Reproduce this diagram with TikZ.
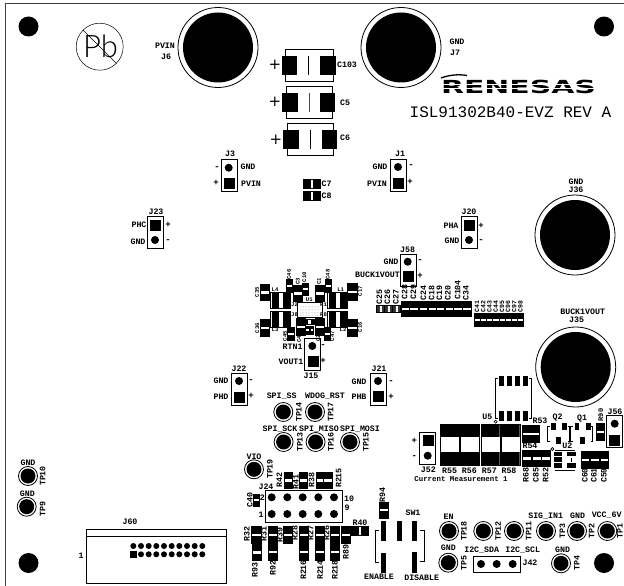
\documentclass[tikz,border=0pt]{standalone}
\usepackage{fontspec}
\newfontfamily\silkface{Liberation Mono}
\newfontfamily\logoface{DejaVu Sans}
\newfontfamily\pbface{Lato Light}
\usetikzlibrary{positioning,patterns}
\tikzset
{
    silk/.style      = {font=\silkface\bfseries\fontsize{8.3}{8.3}\selectfont, inner sep=0pt, align=center},
    silkr/.style     = {silk, rotate=90},
    tiny/.style      = {font=\silkface\bfseries\fontsize{5.6}{5.6}\selectfont, inner sep=0pt},
    tinyr/.style     = {tiny, rotate=90},
    sign/.style      = {font=\silkface\bfseries\fontsize{9}{9}\selectfont, inner sep=0pt},
    bigsign/.style   = {font=\logoface\fontsize{15}{15}\selectfont, inner sep=0pt},
    mhole/.style     = {circle, fill=black, minimum size=20, inner sep=0pt},
    bigterm/.style   = {circle, draw=black, line width=0.8, minimum size=80, inner sep=0pt, path picture={\fill[black] (path picture bounding box.center) circle (35);}},
    testpt/.style    = {circle, draw=black, line width=0.8, minimum size=19, inner sep=0pt, path picture={\fill[black] (path picture bounding box.center) circle (7.5);}},
    header/.style    = {rectangle, draw=black, line width=0.8, minimum width=16, minimum height=32, inner sep=0pt},
    pinround/.style  = {circle, fill=black, minimum size=8, inner sep=0pt},
    pinsq/.style     = {rectangle, fill=black, minimum size=11, inner sep=0pt},
    pad/.style       = {rectangle, fill=black, inner sep=0pt},
    vpart/.style     = {rectangle, draw=black, line width=0.6, fill=black, minimum width=9, minimum height=16.5, inner sep=0pt, path picture={\fill[white] ([yshift=-1.2]path picture bounding box.west) rectangle ([yshift=1.2]path picture bounding box.east);}},
    hpart/.style     = {rectangle, draw=black, line width=0.6, fill=black, minimum width=16.5, minimum height=9, inner sep=0pt, path picture={\fill[white] ([xshift=-1.2]path picture bounding box.north) rectangle ([xshift=1.2]path picture bounding box.south);}},
    inductor/.style  = {rectangle, draw=black, line width=0.8, fill=white, minimum width=20, minimum height=16.4, inner sep=0pt, path picture={\fill[black] ([xshift=1,yshift=-1]path picture bounding box.north west) rectangle ([xshift=8,yshift=1]path picture bounding box.south west); \fill[black] ([xshift=-1,yshift=-1]path picture bounding box.north east) rectangle ([xshift=-8,yshift=1]path picture bounding box.south east);}},
    shunt/.style     = {rectangle, draw=black, fill=white, minimum width=19, minimum height=41, inner sep=0pt, path picture={\fill[black] (path picture bounding box.north west) rectangle ([yshift=-13]path picture bounding box.north east); \fill[black] (path picture bounding box.south west) rectangle ([yshift=13]path picture bounding box.south east);}},
    smallring/.style = {circle, draw=black, line width=0.7, minimum size=3, inner sep=0pt}
}

\begin{document}
\begin{tikzpicture}[x=1pt, y=-1pt]
	\useasboundingbox (0,0) rectangle (624,586);
\fill[white] (0,0) rectangle (624,586);

%% board edge
\draw[line width=0.9, black!75] (5.5,586) -- (5.5,3.5) -- (624,3.5);

%% mounting holes
\node (MH1) [mhole] at (28.5,26.5) {};
\node (MH2) [mhole] at (604,26.5) {};
\node (MH3) [mhole] at (28.5,563) {};
\node (MH4) [mhole] at (604,563) {};

%% lead free mark
\node (PbMark) [circle, draw=black, line width=0.5, minimum size=47, inner sep=0pt] at (99.7,46.7) {};
\node (PbText) [font=\pbface\fontsize{31}{31}\selectfont, inner sep=0pt] at (100.5,46) {Pb};
\draw[line width=0.6] (PbMark.north west) -- (PbMark.south east);

%% power terminals
\node (J6) [bigterm] at (218,47.5) {};
\node (J7) [bigterm] at (401,47.5) {};
\node (J36) [bigterm] at (575,235) {};
\node (J35) [bigterm] at (575.7,367) {};
\node (J6a) [silk] at (165,45.5) {PVIN};
\node (J6b) [silk] at (166,56.5) {J6};
\node (J7a) [silk] at (457,41.5) {GND};
\node (J7b) [silk] at (455,52.5) {J7};
\node (J36a) [silk] at (576,181.5) {GND};
\node (J36b) [silk] at (576,189.5) {J36};
\node (J35a) [silk] at (582.7,312) {BUCK1VOUT};
\node (J35b) [silk] at (576.7,320) {J35};

%% logo and title
\node (Logo) [font=\logoface\bfseries\fontsize{18}{18}\selectfont, inner sep=0pt, xscale=1.66] at (518.5,86.5) {RENESAS};
\draw[white, line width=0.7] (440,84.5) -- (600,84.5);
\draw[white, line width=0.7] (440,88) -- (600,88);
\draw[line width=1.3] (441,78) .. controls (449,75) and (458,74) .. (467,75.5);
\node (Title) [font=\silkface\fontsize{16}{16}\selectfont, inner sep=0pt] at (510.5,112.5) {ISL91302B40-EVZ REV A};

%% bulk caps
\draw[line width=0.8] (285.7,56) -- (285.7,49) -- (333.3,49) -- (333.3,56);
\draw[line width=0.8] (285.7,75) -- (285.7,81.7) -- (333.3,81.7) -- (333.3,75);
\node (C103a) [pad, minimum width=15.6, minimum height=19] at (289.5,65.5) {};
\node (C103b) [pad, minimum width=15.6, minimum height=19] at (327.8,65.5) {};
\draw[line width=0.9] (308.7,56) -- (308.7,75);
\node (C103p) [bigsign] at (275,65) {+};
\node (C103l) [silk] at (347,64.7) {C103};
\draw[line width=0.8] (286,92.7) -- (286,86) -- (332.7,86) -- (332.7,92.7);
\draw[line width=0.8] (286,111.7) -- (286,118.7) -- (332.7,118.7) -- (332.7,111.7);
\node (C5a) [pad, minimum width=15.6, minimum height=19] at (289.9,102.2) {};
\node (C5b) [pad, minimum width=15.6, minimum height=19] at (327.5,102.2) {};
\draw[line width=0.9, black!70] (309,92.7) -- (309,111.7);
\node (C5p) [bigsign] at (275,102) {+};
\node (C5l) [silk] at (345,103) {C5};
\draw[line width=0.8] (287.3,130) -- (287.3,123.3) -- (333.7,123.3) -- (333.7,130);
\draw[line width=0.8] (287.3,149) -- (287.3,155.7) -- (333.7,155.7) -- (333.7,149);
\node (C6a) [pad, minimum width=15.6, minimum height=19] at (291,139.5) {};
\node (C6b) [pad, minimum width=15.6, minimum height=19] at (329.5,139.5) {};
\draw[line width=0.9] (310.3,130) -- (310.3,149);
\node (C6p) [bigsign] at (276,140) {+};
\node (C6l) [silk] at (345,138) {C6};
\node (C7) [hpart, minimum width=16.5, minimum height=8.5] at (311.7,184) {};
\node (C8) [hpart, minimum width=16.5, minimum height=9.5] at (311.7,195.7) {};
\node (C7l) [silk] at (326.5,184) {C7};
\node (C8l) [silk] at (326.5,196) {C8};

%% headers
\node (J3) [header] at (229.3,175.5) {};
\node (J3r) [pinround] at (228.7,167.7) {};
\node (J3s) [pinsq] at (229.5,183.5) {};
\node (J3l) [silk] at (230,154) {J3};
\node (J3g) [silk] at (248,167) {GND};
\node (J3v) [silk] at (251,184) {PVIN};
\node (J3m) [sign] at (217,168) {-};
\node (J3p) [sign] at (216,183) {+};
\node (J1) [header] at (398.3,175.5) {};
\node (J1r) [pinround] at (398,167) {};
\node (J1s) [pinsq] at (398,183) {};
\node (J1l) [silk] at (400,154) {J1};
\node (J1g) [silk] at (380,167) {GND};
\node (J1v) [silk] at (377,184) {PVIN};
\node (J1m) [sign] at (411,166) {-};
\node (J1p) [sign] at (410,182) {+};
\node (J23) [header] at (155.7,232.5) {};
\node (J23s) [pinsq] at (155.7,225) {};
\node (J23r) [pinround] at (155,240) {};
\node (J23l) [silk] at (156,212) {J23};
\node (J23a) [silk] at (139,225) {PHC};
\node (J23g) [silk] at (138,242) {GND};
\node (J23p) [sign] at (168,225) {+};
\node (J23m) [sign] at (168,241) {-};
\node (J20) [header] at (469.7,232.5) {};
\node (J20s) [pinsq] at (469,225) {};
\node (J20r) [pinround] at (469,240) {};
\node (J20l) [silk] at (469,212) {J20};
\node (J20a) [silk] at (451,226) {PHA};
\node (J20g) [silk] at (452,241) {GND};
\node (J20p) [sign] at (481,226) {+};
\node (J20m) [sign] at (481,241) {-};
\node (J58) [header] at (408,270.3) {};
\node (J58r) [pinround] at (407.7,261.7) {};
\node (J58s) [pinsq] at (408,276.5) {};
\node (J58l) [silk] at (407.7,250) {J58};
\node (J58g) [silk] at (391,262) {GND};
\node (J58v) [silk] at (377.5,274.7) {BUCK1VOUT};
\node (J58m) [sign] at (420,261) {-};
\node (J58p) [sign] at (420,276) {+};
\node (J22) [header] at (239,389) {};
\node (J22r) [pinround] at (239,381) {};
\node (J22s) [pinsq] at (239,397) {};
\node (J22l) [silk] at (239,369) {J22};
\node (J22g) [silk] at (221,381) {GND};
\node (J22a) [silk] at (221,397) {PHD};
\node (J22m) [sign] at (251,381) {-};
\node (J22p) [sign] at (251,396) {+};
\node (J21) [header] at (378.3,389) {};
\node (J21r) [pinround] at (378,381) {};
\node (J21s) [pinsq] at (378,396) {};
\node (J21l) [silk] at (379,369) {J21};
\node (J21g) [silk] at (359,382) {GND};
\node (J21a) [silk] at (359,397) {PHB};
\node (J21m) [sign] at (391,382) {-};
\node (J21p) [sign] at (391,397) {+};
\node (J15) [header] at (312.7,354.3) {};
\node (J15r) [pinround] at (312.3,346) {};
\node (J15s) [pinsq] at (313,361.5) {};
\node (J15l) [silk] at (311,376) {J15};
\node (J15a) [silk] at (292.7,347) {RTN1};
\node (J15b) [silk] at (291,361.7) {VOUT1};
\node (J15m) [sign] at (323,346) {-};
\node (J15p) [sign] at (323,361) {+};
\node (J52) [header] at (427.8,448.3) {};
\node (J52s) [pinsq] at (428,440) {};
\node (J52r) [pinround] at (427.7,455.7) {};
\node (J52l) [silk] at (428.3,469.5) {J52};
\node (J52p) [sign] at (414.3,441) {+};
\node (J52m) [sign] at (414.3,457) {-};
\node (J56) [header] at (614.3,431.8) {};
\node (J56r) [pinround] at (614.7,423.7) {};
\node (J56s) [pinsq] at (614.7,440) {};
\node (J56l) [silk] at (615,411.7) {J56};

%% buck stage
\node (U1) [rectangle, draw=black, line width=0.9, fill=white, minimum width=25, minimum height=15.5, inner sep=0pt] at (309.8,310) {};
\node (U1l) [tiny] at (309.3,299.3) {U1};
\fill[pattern=dots, pattern color=black!50] (300,305) rectangle (320,315);
\node (L4) [inductor] at (280.7,300.5) {};
\node (L1) [inductor] at (337.5,300.5) {};
\node (L3) [inductor] at (280.7,319.5) {};
\node (L2) [inductor] at (337.5,319.5) {};
\node (L4l) [tiny] at (275,289.3) {L4};
\node (L1l) [tiny] at (340.7,289.3) {L1};
\node (L3l) [tiny] at (275,330) {L3};
\node (L2l) [tiny] at (343,330) {L2};
\node (C35) [vpart, minimum width=9.5] at (265,292.5) {};
\node (C17) [vpart, minimum width=9.5] at (352.5,291.7) {};
\node (C36) [vpart, minimum width=9.5] at (265,327.7) {};
\node (C16) [vpart, minimum width=9.5] at (352.5,327.7) {};
\node (C35l) [tinyr] at (257,292) {C35};
\node (C17l) [tinyr] at (360,291) {C17};
\node (C36l) [tinyr] at (257.3,328) {C36};
\node (C16l) [tinyr] at (360,327) {C16};
\node (C46) [vpart, minimum width=6.5, minimum height=13] at (289.3,285.8) {};
\node (C3) [vpart] at (297.8,293.3) {};
\node (C10) [vpart, minimum width=6, minimum height=12] at (305.3,289.2) {};
\node (C1) [vpart] at (319.5,293.3) {};
\node (C48) [vpart, minimum width=6, minimum height=13] at (328,285.8) {};
\node (C46l) [tinyr] at (289,274.5) {C46};
\node (C3l) [tinyr] at (297.7,281) {C3};
\node (C10l) [tinyr] at (304.3,277) {C10};
\node (C1l) [tinyr] at (319,281) {C1};
\node (C48l) [tinyr] at (327.7,274.5) {C48};
\node (C4) [vpart] at (300.5,326.7) {};
\node (C2) [vpart] at (319.5,326.7) {};
\node (C45) [vpart, minimum width=6.3, minimum height=12.7] at (290.8,333.7) {};
\node (C47) [vpart, minimum width=6, minimum height=12.7] at (327,333.7) {};
\node (C4l) [tinyr] at (299,339) {C4};
\node (C2l) [tinyr] at (318.3,338) {C2};
\node (C45l) [tinyr] at (285,336) {C45};
\node (C47l) [tinyr] at (332.3,336) {C47};
\node (R11) [hpart, minimum width=9, minimum height=5.5] at (309.5,322) {};
\node (R12) [vpart, minimum width=3.5, minimum height=8] at (307.5,330) {};
\node (R13) [vpart, minimum width=3.5, minimum height=8] at (312,330) {};
\node (U1a) [tiny] at (294.5,304.5) {J2};
\node (U1b) [tiny] at (323.5,305) {R1};
\node (U1c) [tiny] at (294.5,315) {J8};
\node (U1d) [tiny] at (323.5,315) {R8};

%% spi test points
\node (TP14) [testpt] at (283.3,412) {};
\node (TP17) [testpt] at (315,412) {};
\node (TP13) [testpt] at (283.6,442) {};
\node (TP16) [testpt] at (315.6,442) {};
\node (TP15) [testpt] at (350,442) {};
\node (TP19) [testpt] at (254,469.3) {};
\node (TP14l) [silkr] at (299,412) {TP14};
\node (TP17l) [silkr] at (330.7,412) {TP17};
\node (TP13l) [silkr] at (300,442) {TP13};
\node (TP16l) [silkr] at (331,442) {TP16};
\node (TP15l) [silkr] at (366,442) {TP15};
\node (TP19l) [silkr] at (270,469) {TP19};
\node (TP14a) [silk] at (281.7,396) {SPI\_SS};
\node (TP17a) [silk] at (325,396) {WDOG\_RST};
\node (TP13a) [silk] at (280,428.7) {SPI\_SCK};
\node (TP16a) [silk] at (319,428.7) {SPI\_MISO};
\node (TP15a) [silk] at (360,428.7) {SPI\_MOSI};
\node (TP19a) [silk] at (254,457) {VIO};

%% left test points
\node (TP10) [testpt] at (28,476) {};
\node (TP9) [testpt] at (26.7,506.7) {};
\node (TP10l) [silkr] at (42.7,476) {TP10};
\node (TP9l) [silkr] at (42.7,509) {TP9};
\node (TP10a) [silk] at (28,462.3) {GND};
\node (TP9a) [silk] at (27.3,493.3) {GND};

%% J24
\node (J24) [rectangle, draw=black, line width=0.8, minimum width=77.3, minimum height=32.3, inner sep=0pt] at (303.7,506.2) {};
\node (J24a) [pinround] at (271.7,497.3) {};
\node (J24b) [pinround] at (287.3,497.3) {};
\node (J24c) [pinround] at (302.7,497.3) {};
\node (J24d) [pinround] at (318.3,497.3) {};
\node (J24e) [pinround] at (334,497.3) {};
\node (J24f) [pinround] at (271.7,514) {};
\node (J24g) [pinround] at (287.3,514) {};
\node (J24h) [pinround] at (302.7,514) {};
\node (J24i) [pinround] at (318.3,514) {};
\node (J24j) [pinround] at (334,514) {};
\node (J24l) [silk] at (266,486.7) {J24};
\node (J24n2) [silk] at (262.3,497.3) {2};
\node (J24n1) [silk] at (261,515) {1};
\node (J24n10) [silk] at (349,498.7) {10};
\node (J24n9) [silk] at (347,508) {9};

%% resistors round J24
\node (R42) [vpart, minimum width=7.5] at (288.3,480.3) {};
\node (R41) [vpart, minimum width=8] at (303.3,480.3) {};
\node (R38) [vpart, minimum width=7.5] at (319.7,480.3) {};
\node (R215) [vpart, minimum width=8.5] at (327.9,480.3) {};
\node (R42l) [silkr] at (279.3,480) {R42};
\node (R41l) [silkr] at (296,481.7) {R41};
\node (R38l) [silkr] at (311.7,480) {R38};
\node (R215l) [silkr] at (338.7,478) {R215};
\node (C40) [vpart, minimum width=6.3, minimum height=12] at (256.3,500) {};
\node (C40l) [silkr] at (250,500) {C40};
\node (R32) [vpart, minimum width=10] at (256.7,535) {};
\node (R93) [vpart] at (257,552.3) {};
\node (R31) [vpart] at (272.8,535) {};
\node (R92) [vpart] at (272.8,551.7) {};
\node (R39) [vpart, minimum width=9.4] at (288,535) {};
\node (R28) [vpart] at (303.8,535) {};
\node (R216) [vpart] at (303.8,551.7) {};
\node (R27) [vpart] at (319.5,535) {};
\node (R214) [vpart] at (319.5,551.7) {};
\node (R26) [vpart, minimum width=8.6] at (335,535) {};
\node (R218) [vpart, minimum width=8.6] at (335,551.7) {};
\node (R89) [vpart] at (346.2,535) {};
\node (R40) [hpart, minimum height=8.3] at (359.7,530.9) {};
\node (R94) [vpart, minimum width=9.3, minimum height=15.7] at (383.7,510.2) {};
\node (R32l) [silkr] at (247,534) {R32};
\node (R93l) [silkr] at (255,570) {R93};
\node (R31l) [silkr] at (264,534) {R31};
\node (R92l) [silkr] at (273,568) {R92};
\node (R39l) [silkr] at (280,535) {R39};
\node (R28l) [silkr] at (295,533) {R28};
\node (R216l) [silkr] at (303.3,570) {R216};
\node (R27l) [silkr] at (310.7,533) {R27};
\node (R214l) [silkr] at (320,570) {R214};
\node (R26l) [silkr] at (326.7,533) {R26};
\node (R218l) [silkr] at (335,570) {R218};
\node (R89l) [silkr] at (346,552) {R89};
\node (R40l) [silk] at (360,522.7) {R40};
\node (R94l) [silkr] at (382.3,495) {R94};

%% SW1
\node (SW1a) [pad, minimum width=5.3, minimum height=20.6] at (383.7,531) {};
\node (SW1b) [pad, minimum width=5.3, minimum height=20.6] at (383.7,562.8) {};
\node (SW1c) [pad, minimum width=5.6, minimum height=20.6] at (399.5,531) {};
\node (SW1d) [pad, minimum width=5, minimum height=20.6] at (414.8,531) {};
\node (SW1e) [pad, minimum width=5, minimum height=20.6] at (414.8,562.5) {};
\draw[line width=0.7] (379,530.7) -- (375,530.7) -- (375,562.7) -- (379,562.7);
\draw[line width=0.7] (420,530.7) -- (424,530.7) -- (424,561.7) -- (420,561.7);
\node (SW1l) [silk] at (413,513) {SW1};
\node (SW1en) [silk] at (379,577) {ENABLE};
\node (SW1dis) [silk] at (421.7,577.7) {DISABLE};

%% J60
\node (J60) [rectangle, draw=black, line width=0.7, minimum width=140.4, minimum height=54, inner sep=0pt] at (156.5,556) {};
\draw[line width=0.7] (J60.west |- 0,536.7) -- (J60.east |- 0,536.7);
\node (J60l) [silk] at (130,521.7) {J60};
\node (J60n) [silk] at (81,555.7) {1};
\node (J60a1) [pinround, minimum size=6] at (133.3,546) {};
\node (J60a2) [pinround, minimum size=6] at (141,546) {};
\node (J60a3) [pinround, minimum size=6] at (148.7,546) {};
\node (J60a4) [pinround, minimum size=6] at (156.3,546) {};
\node (J60a5) [pinround, minimum size=6] at (164,546) {};
\node (J60a6) [pinround, minimum size=6] at (171.7,546) {};
\node (J60a7) [pinround, minimum size=6] at (179.3,546) {};
\node (J60a8) [pinround, minimum size=6] at (187,546) {};
\node (J60a9) [pinround, minimum size=6] at (194.7,546) {};
\node (J60a10) [pinround, minimum size=6] at (202.3,546) {};
\node (J60b1) [pinsq, minimum size=7] at (133.3,554.3) {};
\node (J60b2) [pinround, minimum size=6] at (141,554.3) {};
\node (J60b3) [pinround, minimum size=6] at (148.7,554.3) {};
\node (J60b4) [pinround, minimum size=6] at (156.3,554.3) {};
\node (J60b5) [pinround, minimum size=6] at (164,554.3) {};
\node (J60b6) [pinround, minimum size=6] at (171.7,554.3) {};
\node (J60b7) [pinround, minimum size=6] at (179.3,554.3) {};
\node (J60b8) [pinround, minimum size=6] at (187,554.3) {};
\node (J60b9) [pinround, minimum size=6] at (194.7,554.3) {};
\node (J60b10) [pinround, minimum size=6] at (202.3,554.3) {};

%% bottom right test points
\node (TP18) [testpt] at (449,531) {};
\node (TP12) [testpt] at (483.3,531) {};
\node (TP11) [testpt] at (514,531) {};
\node (TP3) [testpt] at (546,531) {};
\node (TP2) [testpt] at (577,531) {};
\node (TP1) [testpt] at (607.3,531) {};
\node (TP5) [testpt] at (448.3,562.7) {};
\node (TP4) [testpt] at (561,563.3) {};
\node (TP18l) [silkr] at (464,531) {TP18};
\node (TP12l) [silkr] at (498,531) {TP12};
\node (TP11l) [silkr] at (528.7,531) {TP11};
\node (TP3l) [silkr] at (562.3,531) {TP3};
\node (TP2l) [silkr] at (591.7,531) {TP2};
\node (TP1l) [silkr] at (620,531) {TP1};
\node (TP5l) [silkr] at (464,562.7) {TP5};
\node (TP4l) [silkr] at (577,563.3) {TP4};
\node (TP18a) [silk] at (448.7,516.3) {EN};
\node (TP3a) [silk] at (545.7,516) {SIG\_IN1};
\node (TP2a) [silk] at (577.7,516) {GND};
\node (TP1a) [silk] at (606.7,515) {VCC\_6V};
\node (TP5a) [silk] at (448.3,547.7) {GND};
\node (TP4a) [silk] at (562.7,550) {GND};
\node (J42) [rectangle, draw=black, line width=0.8, minimum width=47.4, minimum height=16.3, inner sep=0pt] at (497,564.2) {};
\node (J42a) [pinround] at (481,564) {};
\node (J42b) [pinround] at (496.7,564) {};
\node (J42c) [pinround] at (512.7,564) {};
\node (J42l) [silk] at (530,562.7) {J42};
\node (J42sda) [silk] at (481.7,550) {I2C\_SDA};
\node (J42scl) [silk] at (522.7,550) {I2C\_SCL};

%% output cap rows
\node (C25) [hpart, minimum width=8, minimum height=7, fill=black!80] at (380.7,309.2) {};
\node (C26) [hpart, minimum width=8, minimum height=7, fill=black!80] at (388.7,309.2) {};
\node (C27) [hpart, minimum width=8, minimum height=7, fill=black!80] at (396.7,309.2) {};
\node (C28) [vpart, minimum width=8.6, minimum height=15.6] at (405.3,308.8) {};
\node (C29) [vpart, minimum width=8.6, minimum height=15.6] at (414,308.8) {};
\node (C24) [vpart, minimum width=8.2, minimum height=15.6] at (423.3,308.8) {};
\node (C18) [vpart, minimum width=8.2, minimum height=15.6] at (432,308.8) {};
\node (C19) [vpart, minimum width=8.2, minimum height=15.6] at (440.2,308.8) {};
\node (C20) [vpart, minimum width=8.4, minimum height=15.6] at (449.2,308.8) {};
\node (C104) [vpart, minimum width=8.6, minimum height=15.6] at (457.8,308.8) {};
\node (C34) [vpart, minimum width=8.6, minimum height=15.6] at (467,308.8) {};
\node (C25l) [silkr] at (379.3,297) {C25};
\node (C26l) [silkr] at (387.3,297) {C26};
\node (C27l) [silkr] at (396,297) {C27};
\node (C28l) [silkr] at (404.7,291.7) {C28};
\node (C29l) [silkr] at (413.3,291.7) {C29};
\node (C24l) [silkr] at (423.3,293) {C24};
\node (C18l) [silkr] at (431.7,293) {C18};
\node (C19l) [silkr] at (439.3,293) {C19};
\node (C20l) [silkr] at (448,293) {C20};
\node (C104l) [silkr] at (457.7,290) {C104};
\node (C34l) [silkr] at (466,293) {C34};
\node (C41) [vpart, minimum width=6.2, minimum height=13.4] at (477.1,320) {};
\node (C42) [vpart, minimum width=6.2, minimum height=13.4] at (483.3,320) {};
\node (C43) [vpart, minimum width=6.2, minimum height=13.4] at (489.5,320) {};
\node (C44) [vpart, minimum width=6.2, minimum height=13.4] at (495.7,320) {};
\node (C95) [vpart, minimum width=6.2, minimum height=13.4] at (501.9,320) {};
\node (C96) [vpart, minimum width=6.2, minimum height=13.4] at (508.1,320) {};
\node (C97) [vpart, minimum width=6.2, minimum height=13.4] at (514.3,320) {};
\node (C98) [vpart, minimum width=6.2, minimum height=13.4] at (520.5,320) {};
\node (C41l) [silkr, font=\silkface\bfseries\fontsize{6.5}{6.5}\selectfont] at (477.1,306.5) {C41};
\node (C42l) [silkr, font=\silkface\bfseries\fontsize{6.5}{6.5}\selectfont] at (483.3,306.5) {C42};
\node (C43l) [silkr, font=\silkface\bfseries\fontsize{6.5}{6.5}\selectfont] at (489.5,306.5) {C43};
\node (C44l) [silkr, font=\silkface\bfseries\fontsize{6.5}{6.5}\selectfont] at (495.7,306.5) {C44};
\node (C95l) [silkr, font=\silkface\bfseries\fontsize{6.5}{6.5}\selectfont] at (501.9,306.5) {C95};
\node (C96l) [silkr, font=\silkface\bfseries\fontsize{6.5}{6.5}\selectfont] at (508.1,306.5) {C96};
\node (C97l) [silkr, font=\silkface\bfseries\fontsize{6.5}{6.5}\selectfont] at (514.3,306.5) {C97};
\node (C98l) [silkr, font=\silkface\bfseries\fontsize{6.5}{6.5}\selectfont] at (520.5,306.5) {C98};

%% U5
\node (U5a) [pad, minimum width=5.2, minimum height=10] at (501.7,381) {};
\node (U5b) [pad, minimum width=5.2, minimum height=10] at (509.7,381) {};
\node (U5c) [pad, minimum width=5.2, minimum height=10] at (517.7,381) {};
\node (U5d) [pad, minimum width=5.2, minimum height=10] at (525.7,381) {};
\node (U5e) [pad, minimum width=5.2, minimum height=10] at (501.7,416) {};
\node (U5f) [pad, minimum width=5.2, minimum height=10] at (509.7,416) {};
\node (U5g) [pad, minimum width=5.2, minimum height=10] at (517.7,416) {};
\node (U5h) [pad, minimum width=5.2, minimum height=10] at (525.7,416) {};
\draw[line width=0.7] (498,378.3) -- (495.7,378.3) -- (495.7,418.3) -- (498,418.3);
\draw[line width=0.7] (529,378.3) -- (531,378.3) -- (531,418.3) -- (529,418.3);
\node (U5dot) [smallring] at (495.7,421.7) {};
\node (U5l) [silk] at (487.3,416.7) {U5};

%% current sense
\node (R55) [shunt] at (449.5,444.8) {};
\node (R56) [shunt] at (470,444.8) {};
\node (R57) [shunt] at (490.2,444.8) {};
\node (R58) [shunt] at (510.2,444.8) {};
\node (R55l) [silk] at (449.7,470.5) {R55};
\node (R56l) [silk] at (469.3,470.5) {R56};
\node (R57l) [silk] at (489.3,470.5) {R57};
\node (R58l) [silk] at (509,470.5) {R58};
\node (CurrLbl) [silk, font=\silkface\bfseries\fontsize{7.4}{7.4}\selectfont] at (461,479) {Current Measurement 1};
\node (R53) [hpart, minimum width=16.3, minimum height=17.3, path picture={\fill[white] ([yshift=-1]path picture bounding box.west) rectangle ([yshift=1]path picture bounding box.east);}] at (530.8,433.7) {};
\node (R53l) [silk] at (540,420.3) {R53};
\node (R54l) [silk] at (530,446.3) {R54};
\node (R68) [vpart] at (526.8,458.5) {};
\node (C85) [vpart] at (536.5,458.5) {};
\node (R52) [vpart] at (546.2,458.5) {};
\node (R68l) [silkr] at (526,475) {R68};
\node (C85l) [silkr] at (536,475) {C85};
\node (R52l) [silkr] at (545.7,475) {R52};

%% Q1 Q2 U2
\node (Q2a) [pad, minimum width=4.8, minimum height=7.3] at (553.4,426.4) {};
\node (Q2b) [pad, minimum width=4.8, minimum height=7.3] at (564.2,426.4) {};
\node (Q2c) [pad, minimum width=5, minimum height=7] at (558.5,440.5) {};
\draw[line width=0.6] (549.5,426.7) -- (547.3,426.7) -- (547.3,441) -- (549.5,441);
\draw[line width=0.6] (567.5,426.7) -- (569.3,426.7) -- (569.3,441) -- (567.5,441);
\node (Q2l) [silk] at (557.7,417.7) {Q2};
\node (Q1a) [pad, minimum width=4.8, minimum height=7.3] at (577,426.4) {};
\node (Q1b) [pad, minimum width=4.8, minimum height=7.3] at (588.2,426.4) {};
\node (Q1c) [pad, minimum width=5, minimum height=7] at (582.2,440.5) {};
\draw[line width=0.6] (573,426.7) -- (570.7,426.7) -- (570.7,441) -- (573,441);
\draw[line width=0.6] (590.5,426.7) -- (592.7,426.7) -- (592.7,441) -- (590.5,441);
\node (Q1l) [silk] at (582,418.7) {Q1};
\node (U2a) [pad, minimum width=8.3, minimum height=4.4] at (558.2,453.9) {};
\node (U2b) [pad, minimum width=8.3, minimum height=4.4] at (558.2,459.5) {};
\node (U2c) [pad, minimum width=8.3, minimum height=4.4] at (558.2,465.5) {};
\node (U2d) [pad, minimum width=8.3, minimum height=4.4] at (571.5,453.9) {};
\node (U2e) [pad, minimum width=8.3, minimum height=4.4] at (571.5,465.5) {};
\draw[line width=0.6] (571.5,457.5) -- (571.5,462);
\draw[line width=0.6] (555,450.3) -- (575,450.3);
\draw[line width=0.6] (555,470.7) -- (575,470.7);
\node (U2dot) [smallring] at (552.3,449) {};
\node (U2l) [silk] at (567.3,446) {U2};
\node (R90) [vpart, minimum width=8.3] at (600.2,431.7) {};
\node (R90l) [silkr, font=\silkface\bfseries\fontsize{7}{7}\selectfont] at (600.7,415) {R90};
\node (C60) [vpart, minimum width=8.3] at (585.2,459.8) {};
\node (C61) [vpart] at (594.5,459.8) {};
\node (C59) [vpart, minimum width=8.7] at (604.3,459.8) {};
\node (C60l) [silkr] at (585,475.5) {C60};
\node (C61l) [silkr] at (594,475.5) {C61};
\node (C59l) [silkr] at (604,475.5) {C59};
	\end{tikzpicture}
\end{document}
